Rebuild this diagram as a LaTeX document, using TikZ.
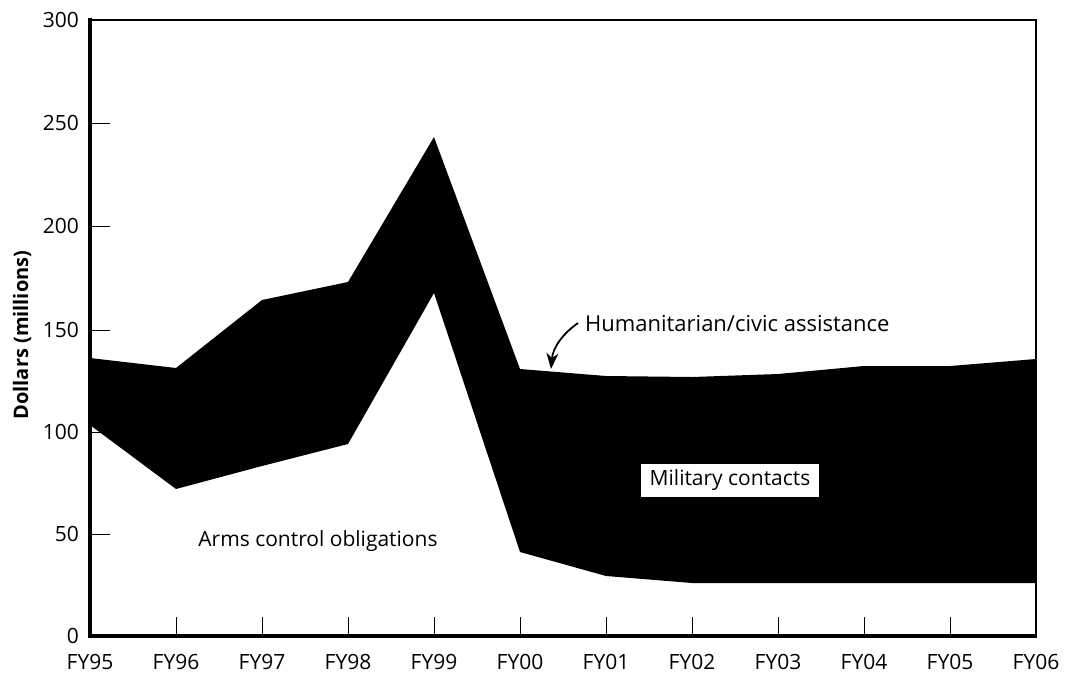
\documentclass[tikz,border=0pt]{standalone}
\usepackage{fontspec}
\setmainfont{Open Sans}
\usetikzlibrary{arrows.meta}
\tikzset{
  lbl/.style={font=\fontsize{21}{24}\selectfont, inner sep=1pt},
  ylbl/.style={lbl, anchor=east},
  xlbl/.style={lbl, anchor=base},
  tick/.style={line width=1pt},
  axisline/.style={line width=4pt},
  frameline/.style={line width=1.3pt},
}
\begin{document}
\begin{tikzpicture}[x=1pt,y=-1pt]
\useasboundingbox (0,0) rectangle (1065,673);
% stacked area (military contacts + humanitarian band)
\fill[black] (90,358) -- (176,368) -- (262,300) -- (348,282) -- (434,137) -- (520,369)
  -- (606,376) -- (692,377) -- (778,374) -- (864,366) -- (950,366) -- (1036,359)
  -- (1036,583) -- (950,583) -- (864,583) -- (778,583) -- (692,583) -- (606,576)
  -- (520,552) -- (434,293) -- (348,444) -- (262,466) -- (176,489) -- (90,425) -- cycle;
% frame
\draw[frameline] (90,20) -- (1036,20) -- (1036,636);
% y ticks
\foreach \yy in {123,226,330,432,534} \draw[tick] (90,\yy) -- (110,\yy);
% x ticks
\foreach \xx in {176,262,348,434,520,606,692,778,864,950} \draw[tick] (\xx,636) -- (\xx,617);
% axes
\draw[axisline] (90,18) -- (90,636) -- (1037,636);
% y labels
\node[ylbl] (y300) at (80,20) {300};
\node[ylbl] (y250) at (80,123) {250};
\node[ylbl] (y200) at (80,226) {200};
\node[ylbl] (y150) at (80,330) {150};
\node[ylbl] (y100) at (80,432) {100};
\node[ylbl] (y50) at (80,534) {50};
\node[ylbl] (y0) at (80,636) {0};
% x labels
\foreach \n/\xx in {95/90,96/176,97/262,98/348,99/434,00/520,01/606,02/692,03/778,04/864,05/950,06/1036}
  \node[xlbl] (fy\n) at (\xx,669) {FY\n};
% axis title
\node[lbl, font=\fontsize{20}{24}\selectfont\bfseries, rotate=90] (ytitle) at (22,335) {Dollars (millions)};
% annotations
\node[lbl, anchor=base west, font=\fontsize{22}{24}\selectfont] (hum) at (584,331) {Humanitarian/civic assistance};
\coordinate (humstart) at ([xshift=-6pt]hum.west);
\coordinate (humtip) at (551,369);
\draw[line width=1.8pt, -{Stealth[length=16pt,width=12pt]}] (humstart) .. controls (565,332) and (553,346) .. (humtip);
\node[lbl, fill=white, inner xsep=9pt, inner ysep=6pt] (mil) at (730,480) {Military contacts};
\node[lbl] (arms) at (318,541) {Arms control obligations};
\end{tikzpicture}
\end{document}
